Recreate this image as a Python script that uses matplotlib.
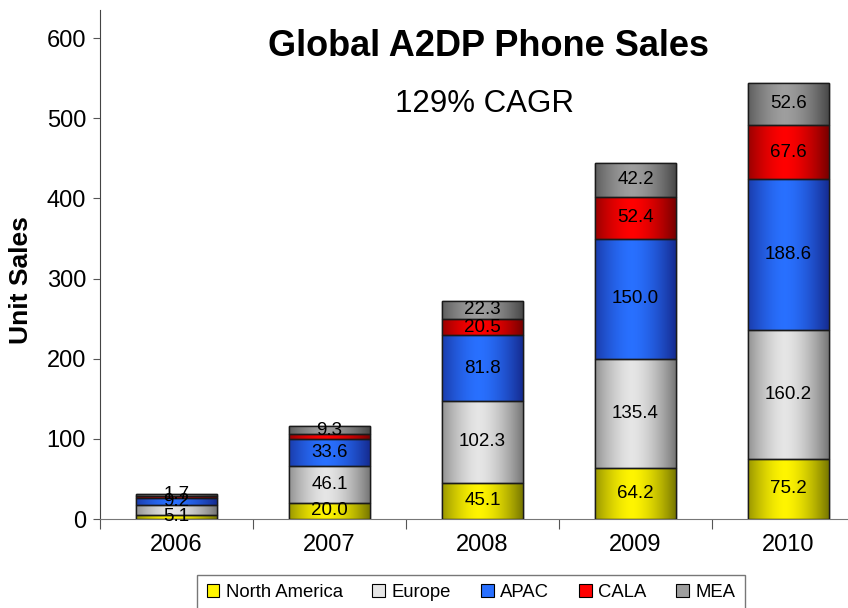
import matplotlib.pyplot as plt
import numpy as np
from matplotlib.patches import Patch

plt.rcParams['font.family'] = ['Liberation Sans', 'DejaVu Sans']

# Data
years = ['2006', '2007', '2008', '2009', '2010']
regions = ['North America', 'Europe', 'APAC', 'CALA', 'MEA']
north_america = [5.1, 20.0, 45.1, 64.2, 75.2]
europe = [12.5, 46.1, 102.3, 135.4, 160.2]
apac = [9.2, 33.6, 81.8, 150.0, 188.6]
cala = [2.5, 6.5, 20.5, 52.4, 67.6]
mea = [1.7, 9.3, 22.3, 42.2, 52.6]
# labels that are not shown in the original (year index, region index)
hidden_labels = [(0, 1), (0, 3), (1, 3)]

series = [north_america, europe, apac, cala, mea]
# (edge colour, centre colour) of the horizontal shading
shades = [((0.45, 0.45, 0.0), (1.0, 0.96, 0.0)),
          ((0.45, 0.45, 0.45), (0.90, 0.90, 0.90)),
          ((0.08, 0.16, 0.55), (0.16, 0.44, 1.0)),
          ((0.45, 0.0, 0.0), (1.0, 0.0, 0.0)),
          ((0.27, 0.27, 0.27), (0.62, 0.62, 0.62))]

t = np.linspace(0, 1, 200)
prof = 1 - np.clip(np.abs(t - 0.45) / 0.55, 0, 1) ** 1.6


def gradient(edge, centre):
    e = np.array(edge)
    c = np.array(centre)
    row = e[None, :] + (c - e)[None, :] * prof[:, None]
    return row[None, :, :]


fig = plt.figure(figsize=(8.48, 6.08), dpi=100)
ax = fig.add_axes([100 / 848, 89 / 608, 765 / 848, 509 / 608])

x = np.arange(len(years))
width = 0.53
bottom = np.zeros(len(years))
for i, vals in enumerate(series):
    vals = np.array(vals)
    edge, centre = shades[i]
    bars = ax.bar(x, vals, width, bottom=bottom, color=centre,
                  edgecolor='#1a1a1a', linewidth=1, zorder=2)
    img = gradient(edge, centre)
    for j, b in enumerate(bars):
        x0, y0 = b.get_x(), b.get_y()
        im = ax.imshow(img, extent=[x0, x0 + b.get_width(), y0, y0 + b.get_height()],
                       aspect='auto', zorder=2.5, interpolation='bilinear')
        im.set_clip_path(b)
        ax.bar(x0 + b.get_width() / 2, b.get_height(), b.get_width(), bottom=y0,
               facecolor='none', edgecolor='#1a1a1a', linewidth=1, zorder=3)
        if (j, i) not in hidden_labels:
            ax.text(x0 + b.get_width() / 2, y0 + b.get_height() / 2,
                    f'{vals[j]:.1f}', ha='center', va='center',
                    fontsize=13.5, color='black', zorder=4)
    bottom += vals

ax.set_xlim(-0.5, 4.5)
ax.set_ylim(0, 635)
ax.set_yticks([0, 100, 200, 300, 400, 500, 600])
ax.set_xticks(np.arange(-0.5, 5, 1), minor=False)
ax.set_xticklabels([])
ax.set_xticks(x, minor=True)
ax.set_xticklabels(years, minor=True)
ax.tick_params(axis='x', which='minor', length=0, labelsize=17, pad=11)
ax.tick_params(axis='x', which='major', length=7, direction='out', color='#555555')
ax.tick_params(axis='y', labelsize=17, length=5, color='#555555', pad=5)

for s in ['top', 'right']:
    ax.spines[s].set_visible(False)
ax.spines['left'].set_color('#444444')
ax.spines['bottom'].set_color('#777777')

ax.set_ylabel('Unit Sales', fontsize=19, fontweight='bold')
ax.yaxis.set_label_coords(-0.088, 0.47)

fig.text(488 / 848, 1 - 46 / 608, 'Global A2DP Phone Sales', ha='center', va='center',
         fontsize=26, fontweight='bold')
fig.text(484 / 848, 1 - 104 / 608, '129% CAGR', ha='center', va='center', fontsize=22.5)

handles = [Patch(facecolor=c, edgecolor='black', linewidth=0.8) for _, c in shades]
leg = fig.legend(handles, regions, loc='upper center', ncol=5,
                 bbox_to_anchor=(471 / 848, 1 - 575 / 608), fontsize=13.3,
                 frameon=True, fancybox=False, edgecolor='#555555',
                 handlelength=0.7, handleheight=0.7, handletextpad=0.35,
                 columnspacing=1.6, borderpad=0.5, borderaxespad=0)
leg.get_frame().set_linewidth(1)

fig.savefig('out.png', dpi=100)
